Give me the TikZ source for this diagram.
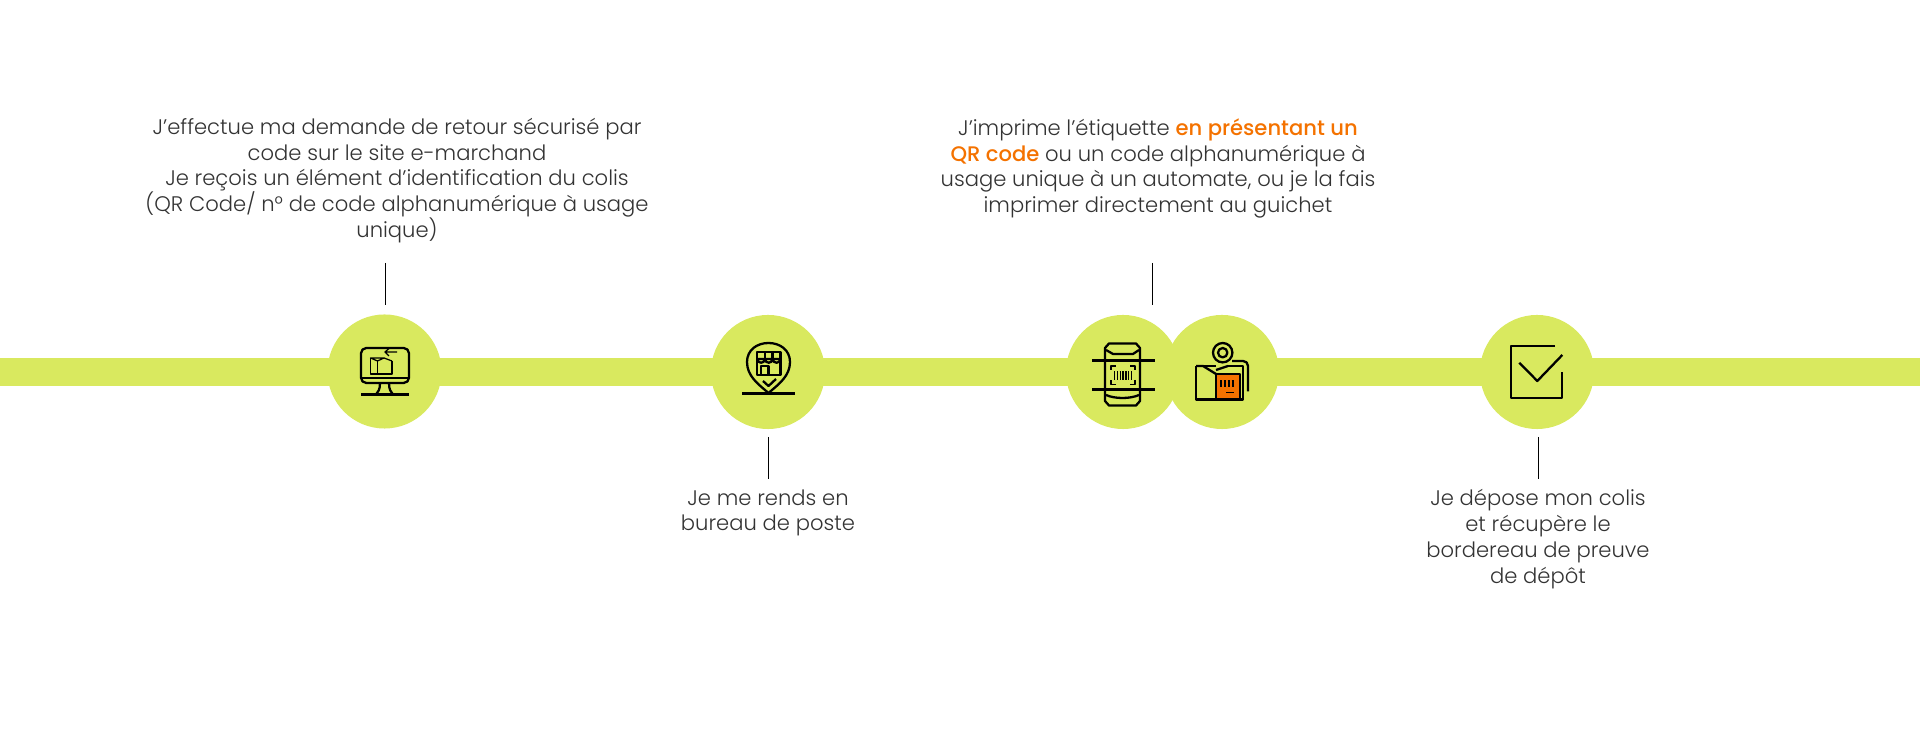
\documentclass[tikz,border=0pt]{standalone}
\usepackage{fontspec}
\setmainfont{Poppins}[UprightFont=* Light,BoldFont=* Medium]
\usepackage{tikz}
\definecolor{vert}{HTML}{D9E95F}
\definecolor{orange}{HTML}{F47200}
\definecolor{gris}{HTML}{333333}
\tikzset{
  x=0.01cm, y=-0.01cm,
  rond/.style={circle, fill=vert, inner sep=0pt, minimum size=1.14cm},
  barre/.style={vert, line width=0.27cm},
  trait/.style={black, line width=0.4pt},
  icone/.style={black, line width=0.65pt, line join=round},
  fin/.style={black, line width=0.35pt, line join=round},
  legende/.style={gris, align=center, inner sep=0pt, font=\fontsize{6pt}{7.34pt}\selectfont}
}

\begin{document}
\begin{tikzpicture}
\useasboundingbox (0,0) rectangle (1920,731);
% barre
\coordinate (gauche) at (0,372);
\coordinate (droite) at (1920,372);
\draw [barre] (gauche) -- (droite);
% ronds
\node [rond] (rond1) at (384.5,371.5) {};
\node [rond] (rond2) at (768,372) {};
\node [rond] (rond3) at (1123,372) {};
\node [rond] (rond4) at (1222,372) {};
\node [rond] (rond5) at (1537,372) {};
% textes
\node [legende] (texte1) at (397,180.5) {J'effectue ma demande de retour sécurisé par\\code sur le site e-marchand\\Je reçois un élément d'identification du colis\\(QR Code/ n° de code alphanumérique à usage\\unique)};
\node [legende] (texte2) at (768,513) {Je me rends en\\bureau de poste};
\node [legende] (texte3) at (1158,168.5) {J'imprime l'étiquette \textcolor{orange}{\bfseries en présentant un}\\\textcolor{orange}{\bfseries QR code} ou un code alphanumérique à\\usage unique à un automate, ou je la fais\\imprimer directement au guichet};
\node [legende] (texte4) at (1538,539) {Je dépose mon colis\\et récupère le\\bordereau de preuve\\de dépôt};
% traits
\coordinate (haut1) at (385.5,263);
\coordinate (bas1) at (385.5,305);
\coordinate (haut2) at (768.5,437);
\coordinate (bas2) at (768.5,479);
\coordinate (haut3) at (1152.5,263);
\coordinate (bas3) at (1152.5,305);
\coordinate (haut4) at (1538.5,437);
\coordinate (bas4) at (1538.5,479);
\draw [trait] (haut1) -- (bas1);
\draw [trait] (haut2) -- (bas2);
\draw [trait] (haut3) -- (bas3);
\draw [trait] (haut4) -- (bas4);
% ecran
\draw [icone, rounded corners=1.5pt] (361,348) rectangle (409,383);
\draw [icone] (361,378) -- (409,378);
\draw [icone] (361,394.5) -- (409,394.5);
\draw [icone] (380,383) .. controls (380,390) and (378,392) .. (376,394.5);
\draw [icone] (389,383) .. controls (389,390) and (391,392) .. (393,394.5);
\draw [fin] (370.5,358) -- (370.5,374) -- (392,374) -- (392,361);
\draw [fin] (370.5,358) -- (377.5,361) -- (384,358) -- cycle;
\draw [fin] (377.5,361) -- (377.5,374);
\draw [fin] (384,358) -- (392,361);
\draw [fin] (397,352) -- (385,352) (389,348.5) -- (385,352) -- (389,356);
% repere
\draw [icone] (768.5,393) .. controls (758,384) and (747,376) .. (747,362) .. controls (747,350) and (757,343) .. (768.5,343) .. controls (780,343) and (790,350) .. (790,362) .. controls (790,376) and (779,384) .. (768.5,393);
\draw [icone] (742,393.5) -- (794.5,393.5);
\draw [icone] (757,352) rectangle (780.5,375);
\draw [icone] (757,359) .. controls (758,364) and (764.5,364) .. (764.8,359) .. controls (765.5,364) and (772,364) .. (772.6,359) .. controls (773,364) and (780,364) .. (780.5,359) -- (757,359);
\draw [icone] (764.8,352) -- (764.8,359) (772.6,352) -- (772.6,359);
\draw [icone] (761,375) -- (761,366) -- (768.5,366) -- (768.5,375);
\draw [icone] (763,381) -- (768.5,386) -- (776,379);
% telephone
\draw [icone] (1109,343.5) -- (1136,343.5) -- (1140,348) -- (1140,401) -- (1136,405.5) -- (1109,405.5) -- (1105,401) -- (1105,348) -- cycle;
\draw [icone] (1106,350) -- (1113,354) -- (1133,354) -- (1139,350);
\draw [icone] (1106,395) .. controls (1115,399) and (1130,399) .. (1139,395);
\draw [icone] (1092,360.5) -- (1154.5,360.5);
\draw [icone] (1092,389.5) -- (1154.5,389.5);
\draw [fin] (1111,370) -- (1111,366) -- (1116,366) (1130,366) -- (1135,366) -- (1135,370) (1135,380) -- (1135,384.5) -- (1130,384.5) (1116,384.5) -- (1111,384.5) -- (1111,380);
\draw [black, line width=0.09cm, dash pattern=on 0.4pt off 0.4pt] (1114,375.5) -- (1132,375.5);
% colis
\draw [icone] (1222.7,352.7) circle (9.7);
\draw [icone] (1222.7,352.7) circle (4.7);
\draw [icone, fill=orange] (1216,374) rectangle (1240,399);
\draw [icone] (1196,366) -- (1196,399.5) -- (1243,399.5) -- (1243,366) -- (1228,366);
\draw [icone] (1196,366) -- (1203,366) -- (1216,374);
\draw [icone] (1216,374) -- (1216,399.5);
\draw [icone] (1216,370) -- (1228,366);
\draw [icone] (1203,366) -- (1216,366);
\draw [icone] (1232,361) -- (1243,361) .. controls (1246,361) and (1248,363) .. (1248,366) -- (1248,391.5);
\draw [black, line width=0.07cm, dash pattern=on 0.6pt off 0.5pt] (1220,383.7) -- (1234,383.7);
\draw [fin] (1226,392.5) -- (1234,392.5);
% case
\draw [icone] (1555,346) -- (1510.7,346) -- (1510.7,398.3) -- (1562.3,398.3) -- (1562.3,371.7);
\draw [icone] (1519.3,362.7) -- (1537.3,381) -- (1562.3,355);
\end{tikzpicture}
\end{document}
